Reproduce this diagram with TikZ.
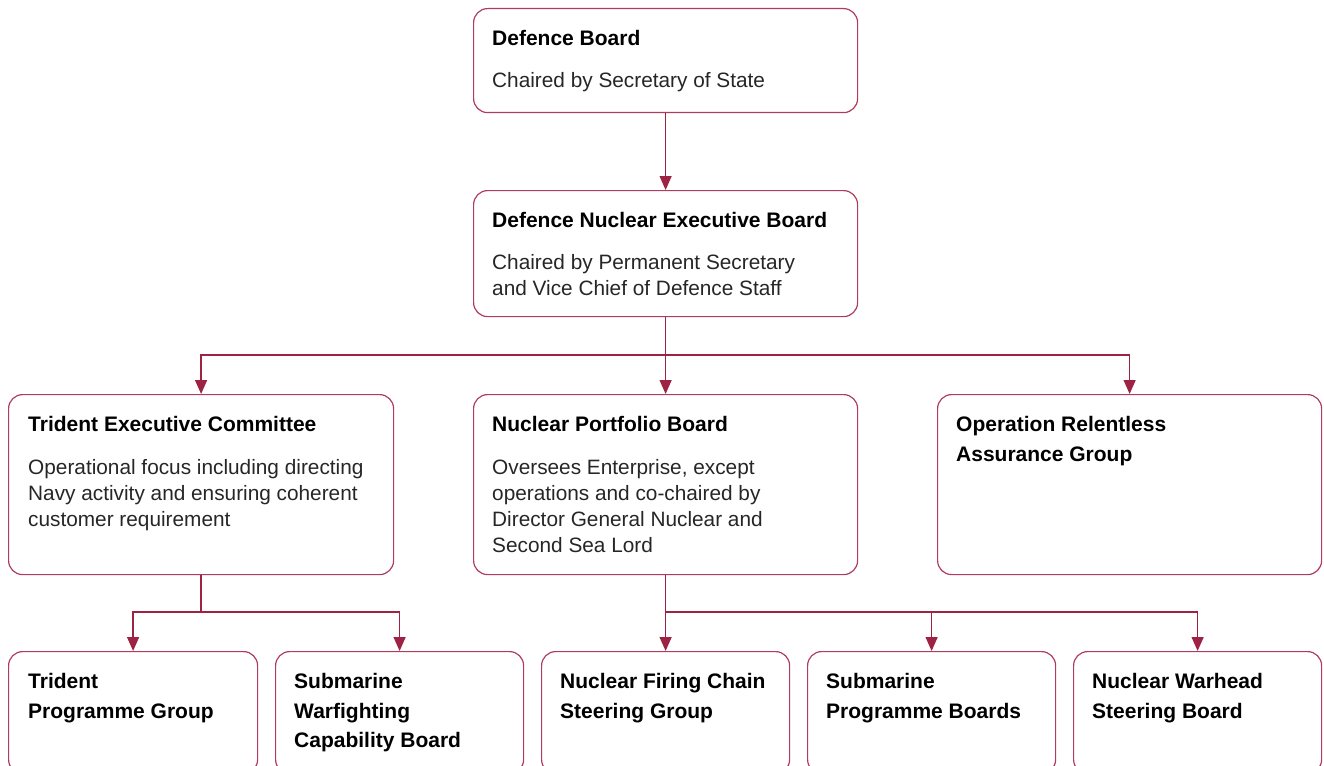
\documentclass[tikz,border=0pt]{standalone}
\usepackage{fontspec}
\setmainfont{Liberation Sans}
\usetikzlibrary{arrows.meta}
\definecolor{crim}{RGB}{158,34,68}
\definecolor{boxc}{RGB}{175,60,92}
\tikzset{
  box/.style={draw=boxc, line width=1.2pt, rounded corners=14pt, anchor=north west, inner sep=0pt},
  ttl/.style={anchor=base west, inner sep=0pt, align=left, font=\bfseries\fontsize{21}{29.5}\selectfont},
  bdy/.style={anchor=base west, inner sep=0pt, align=left, font=\fontsize{20.8}{26}\selectfont, text=black!85},
  link/.style={draw=crim, line width=1.4pt},
  arr/.style={link, -{Triangle[width=12pt,length=14pt]}},
  arr2/.style={link, {Triangle[width=12pt,length=14pt]}-{Triangle[width=12pt,length=14pt]}}
}
\begin{document}
\begin{tikzpicture}[x=1pt,y=-1pt]
\useasboundingbox (0,0) rectangle (1324,765);
\clip (0,0) rectangle (1324,765);
% boxes
\node[box, minimum width=384, minimum height=104] (db) at (473,8) {};
\node[box, minimum width=384, minimum height=126] (dneb) at (473,190) {};
\node[box, minimum width=385, minimum height=180] (tec) at (8,394) {};
\node[box, minimum width=384, minimum height=180] (npb) at (473,394) {};
\node[box, minimum width=384, minimum height=180] (orag) at (937,394) {};
\node[box, minimum width=249, minimum height=122] (tpg) at (8,651) {};
\node[box, minimum width=248, minimum height=122] (swcb) at (275,651) {};
\node[box, minimum width=248, minimum height=122] (nfcs) at (541,651) {};
\node[box, minimum width=248, minimum height=122] (spb) at (807,651) {};
\node[box, minimum width=248, minimum height=122] (nwsb) at (1073,651) {};
% texts (anchor = baseline of the last line)
\node[ttl] (dbt) at ([shift={(19,37.5)}]db.north west) {Defence Board};
\node[bdy] (dbb) at ([shift={(19,79.5)}]db.north west) {Chaired by Secretary of State};
\node[ttl] (dnebt) at ([shift={(19,37.5)}]dneb.north west) {Defence Nuclear Executive Board};
\node[bdy] (dnebb) at ([shift={(19,105)}]dneb.north west) {Chaired by Permanent Secretary\\and Vice Chief of Defence Staff};
\node[ttl] (tect) at ([shift={(20,37.5)}]tec.north west) {Trident Executive Committee};
\node[bdy] (tecb) at ([shift={(20,132)}]tec.north west) {Operational focus including directing\\Navy activity and ensuring coherent\\customer requirement};
\node[ttl] (npbt) at ([shift={(19,37.5)}]npb.north west) {Nuclear Portfolio Board};
\node[bdy] (npbb) at ([shift={(19,158.5)}]npb.north west) {Oversees Enterprise, except\\operations and co-chaired by\\Director General Nuclear and\\Second Sea Lord};
\node[ttl] (oragt) at ([shift={(19,67)}]orag.north west) {Operation Relentless\\Assurance Group};
\node[ttl] (tpgt) at ([shift={(20,67)}]tpg.north west) {Trident\\Programme Group};
\node[ttl] (swcbt) at ([shift={(19,96.5)}]swcb.north west) {Submarine\\Warfighting\\Capability Board};
\node[ttl] (nfcst) at ([shift={(19,67)}]nfcs.north west) {Nuclear Firing Chain\\Steering Group};
\node[ttl] (spbt) at ([shift={(19,67)}]spb.north west) {Submarine\\Programme Boards};
\node[ttl] (nwsbt) at ([shift={(19,67)}]nwsb.north west) {Nuclear Warhead\\Steering Board};
% connectors
\coordinate (j1) at (dneb.south |- 0,355);
\coordinate (j2) at (tec.south |- 0,612);
\coordinate (j3) at (npb.south |- 0,612);
\draw[arr] (db.south) -- (dneb.north);
\draw[arr] (dneb.south) -- (npb.north);
\draw[arr2] (tec.north) -- (tec.north |- j1) -- (orag.north |- j1) -- (orag.north);
\draw[link] (tec.south) -- (j2);
\draw[arr2] (tpg.north) -- (tpg.north |- j2) -- (swcb.north |- j2) -- (swcb.north);
\draw[arr] (npb.south) -- (nfcs.north);
\draw[arr] (j3) -| (spb.north);
\draw[arr] (j3) -| (nwsb.north);
\end{tikzpicture}
\end{document}
